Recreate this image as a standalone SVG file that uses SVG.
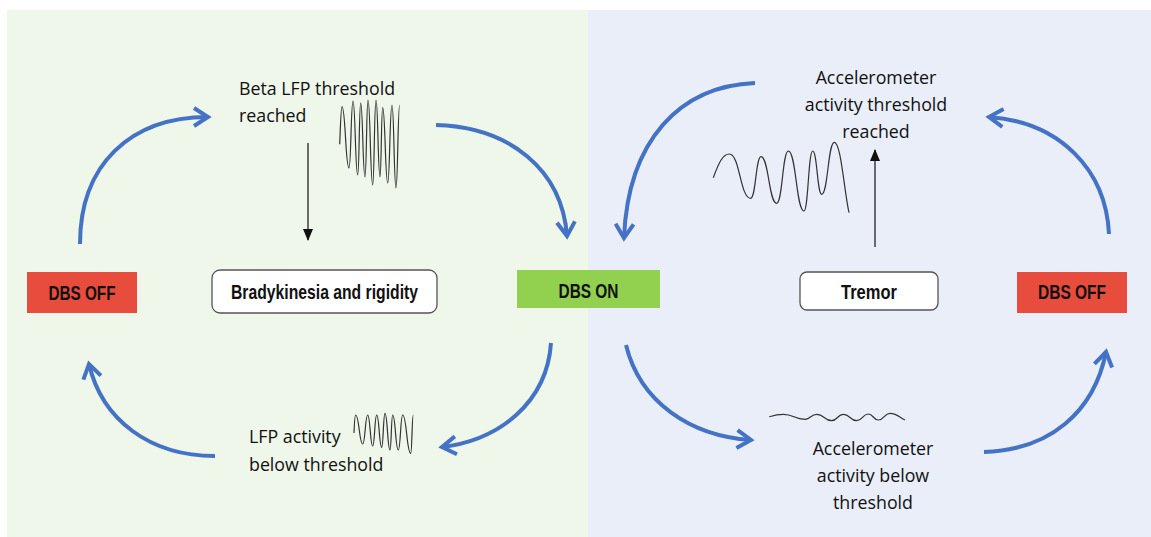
<svg xmlns="http://www.w3.org/2000/svg" width="1151" height="537" viewBox="0 0 1151 537">
<style>
.lbl{font-family:"Open Sans","Liberation Sans",sans-serif;font-size:17.8px;fill:#111}
.box{font-family:"Liberation Sans",Arial,sans-serif;font-weight:bold;font-size:20.5px;fill:#111}
.flow{fill:none;stroke:#4472C4;stroke-width:4;marker-end:url(#chev)}
.wave{fill:none;stroke:#333;stroke-width:1.2}
.blk{stroke:#111;stroke-width:1.2;marker-end:url(#tri)}
</style>
<defs>
<marker id="chev" viewBox="0 0 24 24" markerWidth="24" markerHeight="24" refX="19" refY="12" orient="auto" markerUnits="userSpaceOnUse">
<path d="M5,3 L19,12 L5,21" fill="none" stroke="#4472C4" stroke-width="4" stroke-linejoin="miter"/>
</marker>
<marker id="tri" viewBox="0 0 12 10" markerWidth="12" markerHeight="10" refX="11" refY="5" orient="auto" markerUnits="userSpaceOnUse">
<path d="M0,0 L12,5 L0,10 Z" fill="#111"/>
</marker>
</defs>
<rect x="0" y="0" width="1151" height="537" fill="#ffffff"/>
<rect x="7" y="10" width="581" height="527" fill="#EFF6EA"/>
<rect x="588" y="10" width="563" height="527" fill="#E9EEF8"/>

<g id="connectors">
<path class="flow" d="M80,244 C80,165 130,117 208,117"/>
<path class="flow" d="M436,125 C510,127 562,170 567,236"/>
<path class="flow" d="M551,343 C547,402 500,440 442,447"/>
<path class="flow" d="M215,456 C150,456 102,420 89,364"/>
<path class="flow" d="M755,83 C680,86 628,140 624,238"/>
<path class="flow" d="M1109,234 C1106,170 1060,122 989,117"/>
<path class="flow" d="M626,345 C640,402 690,436 751,440"/>
<path class="flow" d="M984,452 C1050,450 1094,412 1106,352"/>
<line class="blk" x1="308" y1="143" x2="308" y2="240"/>
<line class="blk" x1="875" y1="247" x2="875" y2="150"/>
</g>

<g id="dbs-off-left">
<rect x="27" y="272" width="110" height="41" fill="#E74C3C"/>
<text class="box" x="82" y="300" text-anchor="middle" textLength="67" lengthAdjust="spacingAndGlyphs">DBS OFF</text>
</g>
<g id="bradykinesia">
<rect x="212" y="270" width="225" height="43" rx="8" fill="#fff" stroke="#555" stroke-width="1.3"/>
<text class="box" x="324.5" y="299" text-anchor="middle" textLength="187" lengthAdjust="spacingAndGlyphs">Bradykinesia and rigidity</text>
</g>
<g id="dbs-on">
<rect x="517" y="270" width="143" height="38" fill="#92D050"/>
<text class="box" x="588.5" y="297.5" text-anchor="middle" textLength="60" lengthAdjust="spacingAndGlyphs">DBS ON</text>
</g>
<g id="tremor">
<rect x="800" y="272" width="138" height="38" rx="7" fill="#fff" stroke="#555" stroke-width="1.3"/>
<text class="box" x="869" y="299" text-anchor="middle" textLength="56" lengthAdjust="spacingAndGlyphs">Tremor</text>
</g>
<g id="dbs-off-right">
<rect x="1017" y="272" width="110" height="41" fill="#E74C3C"/>
<text class="box" x="1072" y="299" text-anchor="middle" textLength="68" lengthAdjust="spacingAndGlyphs">DBS OFF</text>
</g>

<g id="beta-threshold">
<text class="lbl" x="239" y="95">Beta LFP threshold</text>
<text class="lbl" x="239" y="122">reached</text>
<path class="wave" d="M339.7,144.3 C340.5,125 341,106.7 342,106.7 C345.5,106.7 345.5,168 349,168 C351,168 351,101 353,101 C355.3,101 355.3,175 357.7,175 C359.2,175 359.2,103 360.7,103 C362.8,103 362.8,177 365,177 C366.5,177 366.5,100 368,100 C370.3,100 370.3,185 372.7,185 C374.3,185 374.3,100 376,100 C378,100 378,177 380,177 C381.3,177 381.3,107.7 382.7,107.7 C385.2,107.7 385.2,183 387.7,183 C389.8,183 389.8,105 392,105 C394,105 394,188 396,188 C397.8,188 397.8,105 399.7,105"/>
</g>

<g id="lfp-below">
<text class="lbl" x="249" y="443">LFP activity</text>
<text class="lbl" x="249" y="471">below threshold</text>
<path class="wave" d="M354,433 C354.5,420 355,415 355.7,415 C359.2,415 359.2,444 362.7,444 C365.2,444 365.2,415 367.7,415 C370.2,415 370.2,446 372.7,446 C374.7,446 374.7,415 376.7,415 C379.2,415 379.2,447.3 381.7,447.3 C383.3,447.3 383.3,413.3 385,413.3 C387.5,413.3 387.5,450 390,450 C391.3,450 391.3,415 392.7,415 C395.5,415 395.5,450 398.3,450 C400.5,450 400.5,415 402.7,415 C406.7,415 406.7,453.3 410.7,453.3 C412,453.3 412,415 413.3,415"/>
</g>

<g id="accel-threshold">
<text class="lbl" x="876" y="84" text-anchor="middle">Accelerometer</text>
<text class="lbl" x="876" y="111" text-anchor="middle">activity threshold</text>
<text class="lbl" x="876" y="138" text-anchor="middle">reached</text>
<path class="wave" d="M713.3,177.7 C719,162 723,154 729.3,154 C740,154 740,198.3 750.7,198.3 C755.8,198.3 755.8,156.7 761,156.7 C768.8,156.7 768.8,203.3 776.7,203.3 C782.5,203.3 782.5,151 788.3,151 C796.2,151 796.2,211 804,211 C808.3,211 808.3,151 812.7,151 C817.2,151 817.2,194.3 821.7,194.3 C828,194.3 828,142.3 834.3,142.3 C841,142.3 844,190 849,212.7"/>
</g>

<g id="accel-below">
<text class="lbl" x="873" y="455" text-anchor="middle">Accelerometer</text>
<text class="lbl" x="873" y="482" text-anchor="middle">activity below</text>
<text class="lbl" x="873" y="509" text-anchor="middle">threshold</text>
<path class="wave" d="M769.3,416.7 C775,415 778,414.3 783.3,414.3 C794,414.3 794,419.3 805,419.3 C810.8,419.3 810.8,414.3 816.7,414.3 C824.2,414.3 824.2,420.7 831.7,420.7 C837.5,420.7 837.5,414.3 843.3,414.3 C850,414.3 850,420.7 856.7,420.7 C862.5,420.7 862.5,414 868.3,414 C873.3,414 873.3,420 878.3,420 C884.2,420 884.2,413.3 890,413.3 C897.5,413.3 900,418 905,420"/>
</g>
</svg>
